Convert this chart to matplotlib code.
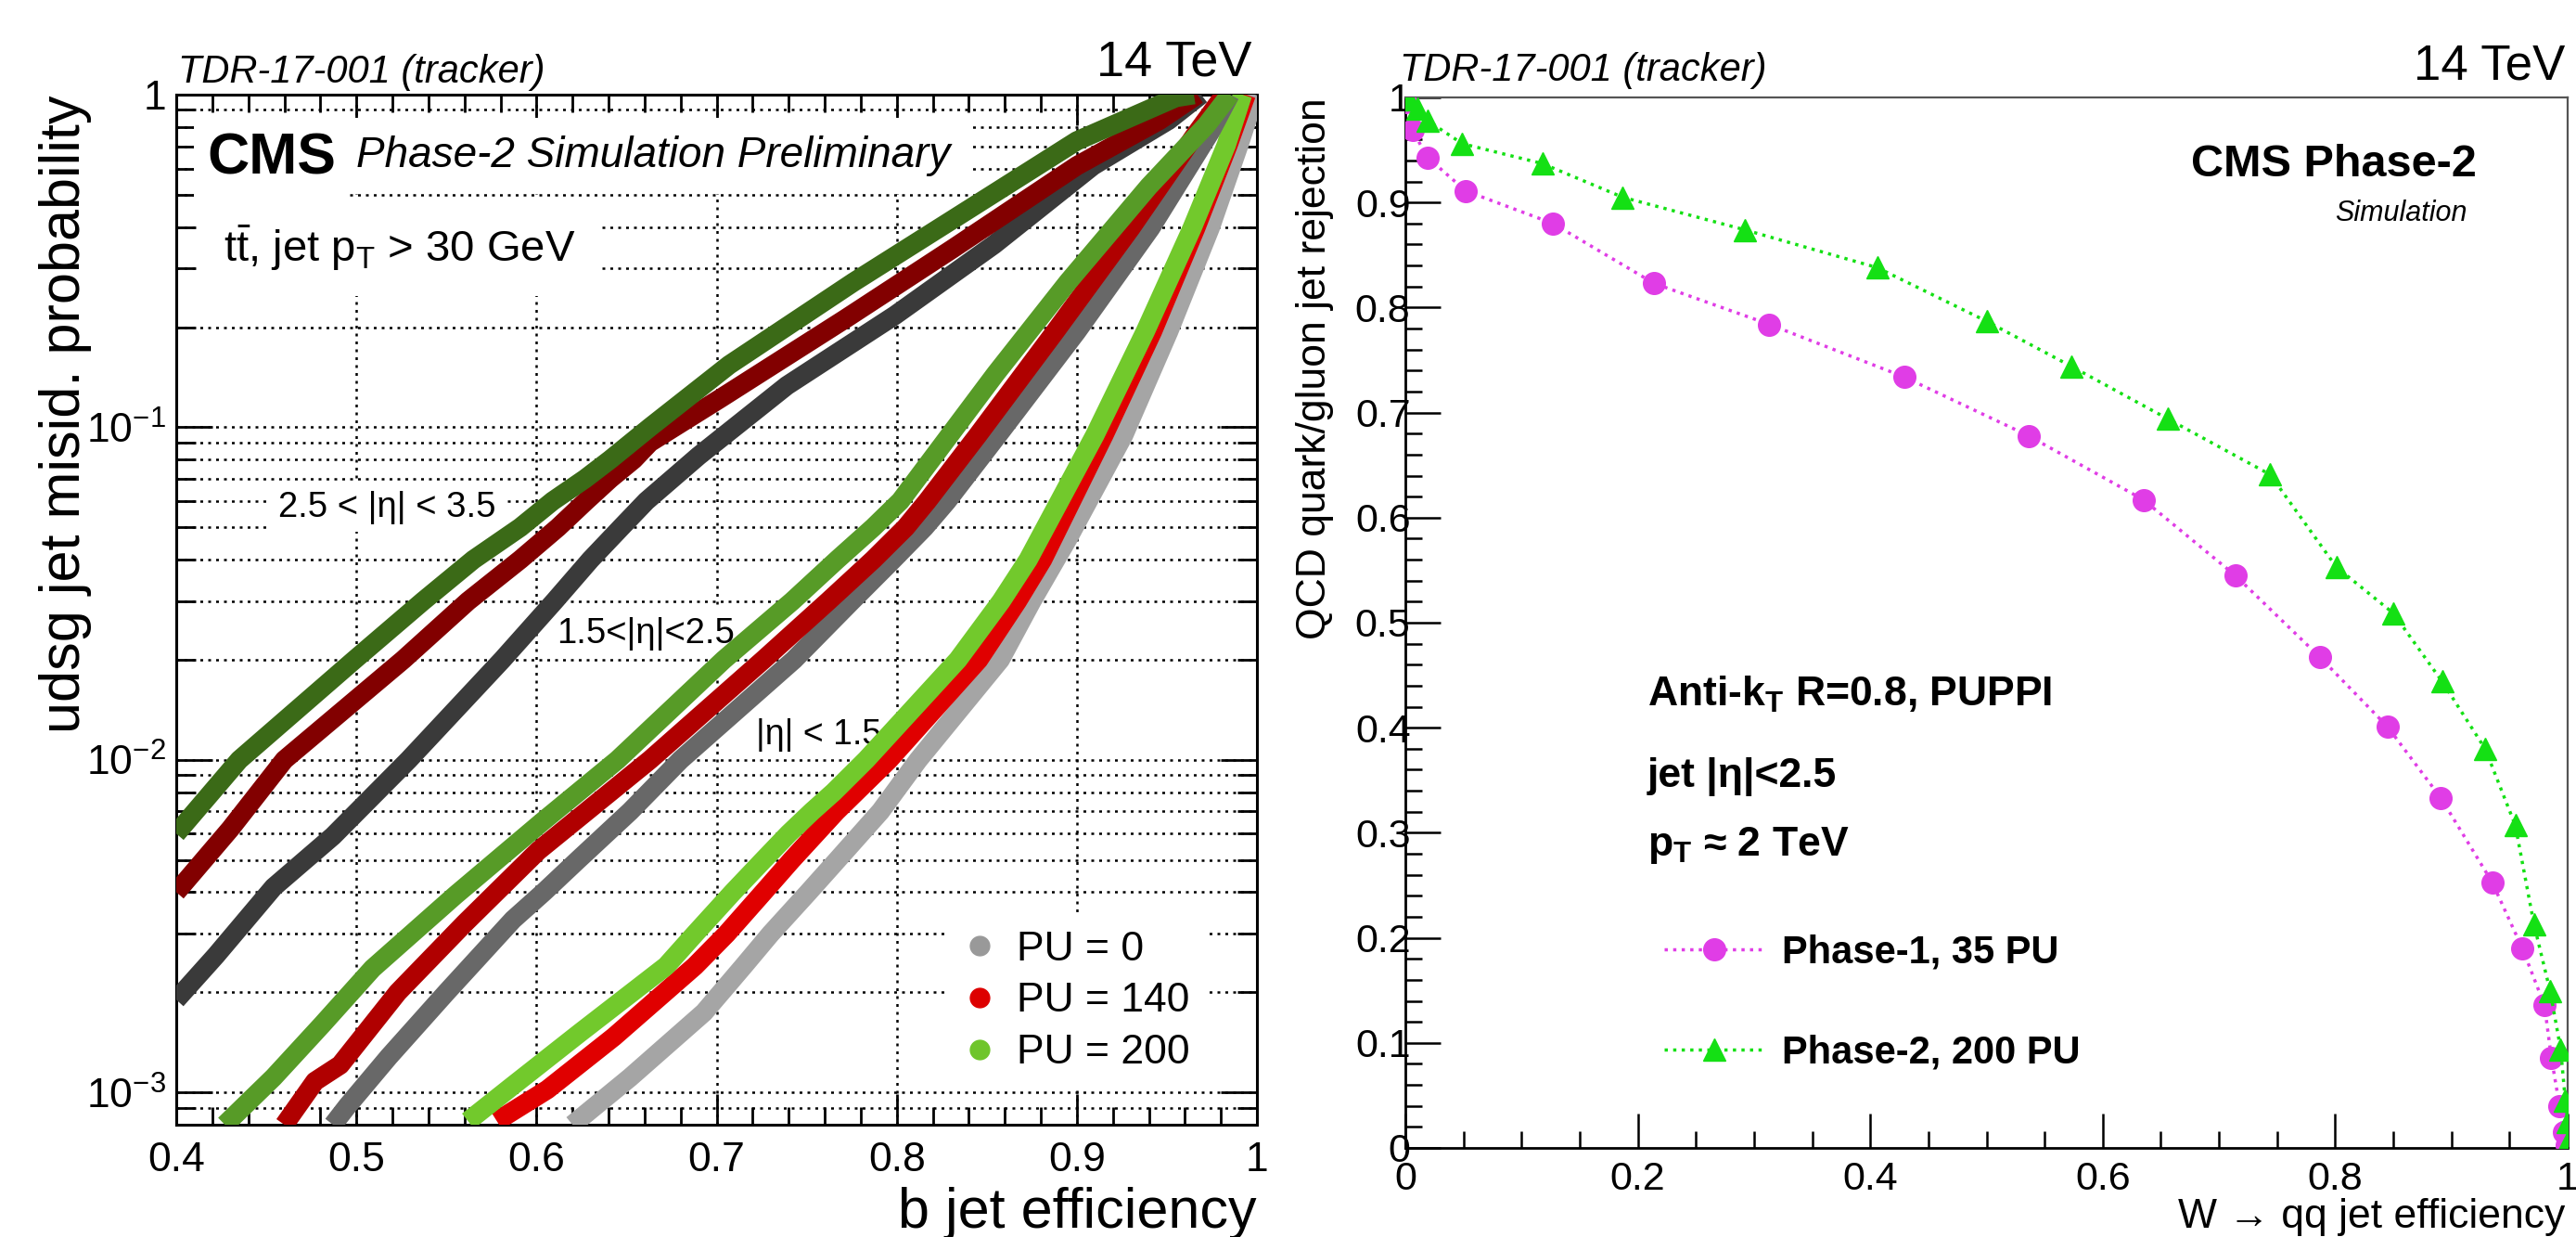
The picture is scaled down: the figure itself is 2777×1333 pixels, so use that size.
import numpy as np
import matplotlib
matplotlib.use("Agg")
import matplotlib.pyplot as plt
from matplotlib.ticker import (LogLocator, MultipleLocator, NullFormatter,
                               FuncFormatter)
from matplotlib.lines import Line2D

plt.rcParams['font.family'] = ['Liberation Sans', 'DejaVu Sans']
plt.rcParams['mathtext.fontset'] = 'custom'
plt.rcParams['mathtext.rm'] = 'Liberation Sans'
plt.rcParams['mathtext.it'] = 'Liberation Sans:italic'
plt.rcParams['mathtext.bf'] = 'Liberation Sans:bold'

# ---------------- left panel: b tagging, udsg misid vs b efficiency -------------
# |eta| < 1.5
e1_pu0_x = [0.620, 0.652, 0.693, 0.715, 0.730, 0.751, 0.767, 0.791, 0.812, 0.8575, 0.875, 0.895, 0.926, 0.951, 0.974, 0.990, 0.999]
e1_pu0_y = [0.00080, 0.00111, 0.00174, 0.0024, 0.0030, 0.0040, 0.0050, 0.0070, 0.0100, 0.0200, 0.0300, 0.0462, 0.0946, 0.194, 0.397, 0.706, 1.0]
e1_pu140_x = [0.578, 0.606, 0.643, 0.688, 0.7056, 0.726, 0.7417, 0.7665, 0.7957, 0.8455, 0.867, 0.881, 0.915, 0.942, 0.966, 0.984, 0.994]
e1_pu140_y = [0.00082, 0.00102, 0.00147, 0.0024, 0.0030, 0.0040, 0.0050, 0.0070, 0.0100, 0.0200, 0.0300, 0.0400, 0.0946, 0.194, 0.397, 0.706, 1.0]
e1_pu200_x = [0.562, 0.587, 0.624, 0.672, 0.688, 0.709, 0.726, 0.740, 0.753, 0.765, 0.783, 0.834, 0.858, 0.873, 0.910, 0.938, 0.964, 0.983, 0.992]
e1_pu200_y = [0.00082, 0.00105, 0.00151, 0.0024, 0.0030, 0.0040, 0.0050, 0.0060, 0.0070, 0.0080, 0.0100, 0.0200, 0.0300, 0.0400, 0.0946, 0.194, 0.397, 0.706, 1.0]

# 1.5 < |eta| < 2.5
e2_pu0_x = [0.487, 0.495, 0.518, 0.550, 0.587, 0.604, 0.623, 0.652, 0.680, 0.743, 0.775, 0.798, 0.8155, 0.828, 0.858, 0.900, 0.941, 0.974, 0.985]
e2_pu0_y = [0.00080, 0.00091, 0.00128, 0.0020, 0.00331, 0.0040, 0.0050, 0.0070, 0.0100, 0.0200, 0.0300, 0.0400, 0.0500, 0.0600, 0.0975, 0.194, 0.397, 0.77, 1.0]
e2_pu140_x = [0.460, 0.477, 0.491, 0.523, 0.560, 0.601, 0.663, 0.726, 0.762, 0.787, 0.805, 0.817, 0.845, 0.888, 0.930, 0.965, 0.982]
e2_pu140_y = [0.00080, 0.00108, 0.00121, 0.0020, 0.00322, 0.00533, 0.0100, 0.0200, 0.0300, 0.0400, 0.0500, 0.0600, 0.0946, 0.194, 0.397, 0.748, 1.0]
e2_pu200_x = [0.427, 0.454, 0.481, 0.509, 0.555, 0.603, 0.645, 0.704, 0.742, 0.767, 0.787, 0.802, 0.855, 0.895, 0.940, 0.972, 0.985]
e2_pu200_y = [0.00080, 0.00111, 0.0016, 0.00236, 0.00392, 0.0065, 0.0100, 0.0200, 0.0300, 0.0400, 0.0500, 0.0600, 0.145, 0.273, 0.53, 0.81, 1.0]

# 2.5 < |eta| < 3.5
e3_pu0_x = [0.400, 0.422, 0.454, 0.487, 0.529, 0.581, 0.610, 0.630, 0.647, 0.661, 0.690, 0.739, 0.799, 0.854, 0.909, 0.951, 0.969]
e3_pu0_y = [0.0019, 0.00258, 0.00414, 0.0059, 0.0100, 0.0200, 0.0300, 0.0400, 0.0500, 0.0600, 0.082, 0.1334, 0.217, 0.354, 0.611, 0.838, 1.0]
e3_pu140_x = [0.400, 0.430, 0.460, 0.526, 0.562, 0.591, 0.612, 0.6275, 0.641, 0.654, 0.663, 0.702, 0.771, 0.831, 0.900, 0.946, 0.967]
e3_pu140_y = [0.0040, 0.0062, 0.0100, 0.0200, 0.0300, 0.0400, 0.0500, 0.0600, 0.0700, 0.0800, 0.0900, 0.122, 0.211, 0.344, 0.611, 0.838, 1.0]
e3_pu200_x = [0.400, 0.435, 0.499, 0.537, 0.565, 0.591, 0.609, 0.627, 0.641, 0.663, 0.707, 0.776, 0.831, 0.900, 0.955, 0.965]
e3_pu200_y = [0.0060, 0.0100, 0.0200, 0.0300, 0.0400, 0.0500, 0.0600, 0.0700, 0.0800, 0.100, 0.154, 0.273, 0.421, 0.726, 0.98, 1.0]

pu_labels = ['PU = 0', 'PU = 140', 'PU = 200']
pu_legend_colors = ['#999999', '#dd0000', '#6fc52b']

# ---------------- right panel: W tagging ROC -------------
ph1_x = [0.000, 0.006, 0.019, 0.052, 0.127, 0.214, 0.313, 0.429, 0.536, 0.635, 0.714, 0.787, 0.845, 0.891, 0.935, 0.961, 0.980, 0.986, 0.993, 0.997, 0.999]
ph1_y = [0.996, 0.969, 0.943, 0.911, 0.880, 0.823, 0.784, 0.734, 0.678, 0.617, 0.545, 0.467, 0.401, 0.333, 0.253, 0.190, 0.136, 0.086, 0.040, 0.015, 0.003]
ph2_x = [0.003, 0.010, 0.019, 0.049, 0.118, 0.187, 0.292, 0.406, 0.500, 0.573, 0.656, 0.744, 0.801, 0.850, 0.892, 0.929, 0.955, 0.971, 0.985, 0.994, 0.998, 1.000, 1.000]
ph2_y = [0.998, 0.989, 0.978, 0.956, 0.937, 0.905, 0.874, 0.838, 0.787, 0.744, 0.694, 0.641, 0.553, 0.509, 0.444, 0.380, 0.307, 0.213, 0.149, 0.094, 0.045, 0.025, 0.005]
w_labels = ['Phase-1, 35 PU', 'Phase-2, 200 PU']

W, H = 2777, 1333
fig = plt.figure(figsize=(W / 100, H / 100), dpi=100)


def fx(px):
    return px / W


def fy(py):
    return 1 - py / H


grid_style = dict(color='black', linestyle=(0, (1.2, 2.2)), linewidth=1.8)

# ===== left =====
ax1 = fig.add_axes([fx(190), fy(1212), fx(1355) - fx(190), fy(102) - fy(1212)])
ax1.set_xlim(0.4, 1.0)
ax1.set_yscale('log')
ax1.set_ylim(8e-4, 1.0)

curves = [
    (e1_pu0_x, e1_pu0_y, '#a5a5a5'), (e1_pu140_x, e1_pu140_y, '#e00000'), (e1_pu200_x, e1_pu200_y, '#72c92c'),
    (e2_pu0_x, e2_pu0_y, '#686868'), (e2_pu140_x, e2_pu140_y, '#b00000'), (e2_pu200_x, e2_pu200_y, '#579b27'),
    (e3_pu0_x, e3_pu0_y, '#3a3a3a'), (e3_pu140_x, e3_pu140_y, '#820000'), (e3_pu200_x, e3_pu200_y, '#3b6a17'),
]
for cx, cy, col in curves:
    ax1.plot(cx, cy, color=col, lw=15, solid_capstyle='butt', solid_joinstyle='round', zorder=4)

ax1.xaxis.set_major_locator(MultipleLocator(0.1))
ax1.xaxis.set_minor_locator(MultipleLocator(0.02))
ax1.xaxis.set_major_formatter(FuncFormatter(lambda v, p: '%g' % round(v, 2)))
ax1.yaxis.set_major_locator(LogLocator(base=10, numticks=10))
ax1.yaxis.set_minor_locator(LogLocator(base=10, subs=np.arange(2, 10), numticks=20))
ax1.yaxis.set_minor_formatter(NullFormatter())
ax1.yaxis.set_major_formatter(FuncFormatter(
    lambda v, p: '1' if abs(v - 1) < 1e-9 else r'$\mathregular{10^{%d}}$' % round(np.log10(v))))
ax1.grid(True, which='major', axis='x', **grid_style)
ax1.grid(True, which='both', axis='y', **grid_style)
ax1.set_axisbelow(True)
ax1.tick_params(axis='x', which='major', direction='in', top=True, length=24, width=2, labelsize=32, pad=13)
ax1.tick_params(axis='x', which='minor', direction='in', top=True, length=14, width=2)
ax1.tick_params(axis='y', which='major', direction='in', right=True, length=28, width=2, labelsize=32, pad=8)
ax1.tick_params(axis='y', which='minor', direction='in', right=True, length=15, width=2)
for s in ax1.spines.values():
    s.set_linewidth(2.2)

fig.text(fx(1355), fy(1323), 'b jet efficiency', fontsize=44, ha='right', va='baseline')
fig.text(fx(71), fy(102), 'udsg jet misid. probability', fontsize=44, rotation=90, ha='center', va='top')
fig.text(fx(192), fy(89), 'TDR-17-001 (tracker)', fontsize=30, style='italic', va='baseline')
fig.text(fx(1350), fy(82), '14 TeV', fontsize=39, ha='right', va='baseline')

# labels inside the frame: white boxes hide the grid, curves stay on top
ftr = fig.transFigure
white = dict(facecolor='white', edgecolor='none', pad=6)
ax1.text(fx(223), fy(187), 'CMS', fontsize=45, weight='bold', va='baseline', transform=ftr, zorder=3,
         bbox=dict(facecolor='white', edgecolor='none', pad=10))
ax1.text(fx(384), fy(180), 'Phase-2 Simulation Preliminary', fontsize=33, style='italic', va='baseline',
         transform=ftr, zorder=3, bbox=dict(facecolor='white', edgecolor='none', pad=14))
ax1.text(fx(241), fy(282), r'$\mathrm{t\bar{t}}$, jet $\mathrm{p_{T}}$ > 30 GeV', fontsize=34, va='baseline',
         transform=ftr, zorder=3, bbox=dict(facecolor='white', edgecolor='none', pad=18))
ax1.text(fx(300), fy(557), '2.5 < |η| < 3.5', fontsize=27.5, va='baseline', transform=ftr, zorder=3, bbox=white)
ax1.text(fx(600), fy(693), '1.5<|η|<2.5', fontsize=27.5, va='baseline', transform=ftr, zorder=3, bbox=white)
ax1.text(fx(815), fy(802), '|η| < 1.5', fontsize=27, va='baseline', transform=ftr, zorder=3, bbox=white)

handles = [Line2D([], [], marker='o', ls='none', color=c, markersize=15) for c in pu_legend_colors]
leg1 = ax1.legend(handles, pu_labels, loc='upper left', bbox_to_anchor=(fx(1020), fy(985)),
                  bbox_transform=fig.transFigure, fontsize=32, frameon=True, fancybox=False,
                  framealpha=1, edgecolor='none', facecolor='white', borderpad=0.4,
                  handlelength=0.8, handletextpad=0.5, labelspacing=0.33, borderaxespad=0)
leg1.set_zorder(6)

# ===== right =====
ax2 = fig.add_axes([fx(1515), fy(1237), fx(2768) - fx(1515), fy(105) - fy(1237)])
ax2.set_xlim(0, 1)
ax2.set_ylim(0, 1)
ax2.plot(ph1_x, ph1_y, color='#e03de6', ls=':', lw=2.5, marker='o', markersize=17, zorder=4)
ax2.plot(ph2_x, ph2_y, color='#14e014', ls=':', lw=2.5, marker='^', markersize=17, zorder=5)

ax2.xaxis.set_major_locator(MultipleLocator(0.2))
ax2.xaxis.set_minor_locator(MultipleLocator(0.05))
ax2.yaxis.set_major_locator(MultipleLocator(0.1))
ax2.yaxis.set_minor_locator(MultipleLocator(0.02))
fmt = FuncFormatter(lambda v, p: '%g' % round(v, 2))
ax2.xaxis.set_major_formatter(fmt)
ax2.yaxis.set_major_formatter(fmt)
ax2.tick_params(which='major', direction='in', length=27, width=1.8, labelsize=31)
ax2.tick_params(which='minor', direction='in', length=13, width=1.8)
ax2.tick_params(axis='x', pad=10)
ax2.tick_params(axis='y', pad=-4)
ax2.spines['left'].set_linewidth(2)
ax2.spines['bottom'].set_linewidth(2)
ax2.spines['top'].set_color('#555555')
ax2.spines['right'].set_color('#555555')
ax2.spines['top'].set_linewidth(1.6)
ax2.spines['right'].set_linewidth(1.6)

fig.text(fx(2765), fy(1323), 'W → qq jet efficiency', fontsize=32, ha='right', va='baseline')
fig.text(fx(1418), fy(105), 'QCD quark/gluon jet rejection', fontsize=32, rotation=90, ha='center', va='top')
fig.text(fx(1509), fy(87), 'TDR-17-001 (tracker)', fontsize=30, style='italic', va='baseline')
fig.text(fx(2765), fy(85), '14 TeV', fontsize=38, ha='right', va='baseline')
fig.text(fx(2670), fy(190), 'CMS Phase-2', fontsize=35, weight='bold', ha='right', va='baseline')
fig.text(fx(2660), fy(238), 'Simulation', fontsize=22, style='italic', ha='right', va='baseline')
fig.text(fx(1776), fy(761), r'Anti-$\mathbf{k_{T}}$ R=0.8, PUPPI', fontsize=32, weight='bold', va='baseline')
fig.text(fx(1776), fy(848), 'jet |η|<2.5', fontsize=32, weight='bold', va='baseline')
fig.text(fx(1776), fy(922), r'$\mathbf{p_{T}}$ ≈ 2 TeV', fontsize=32, weight='bold', va='baseline')

whandles = [Line2D([], [], color='#e03de6', ls=':', lw=2.5, marker='o', markersize=17),
            Line2D([], [], color='#14e014', ls=':', lw=2.5, marker='^', markersize=17)]
ax2.legend(whandles, w_labels, loc='upper left', bbox_to_anchor=(fx(1794), fy(1007)),
           bbox_transform=fig.transFigure, frameon=False, borderpad=0, borderaxespad=0,
           handlelength=2.6, handletextpad=0.45, labelspacing=1.62,
           prop=dict(family='Liberation Sans', weight='bold', size=30))

fig.savefig('out.png', dpi=100)
